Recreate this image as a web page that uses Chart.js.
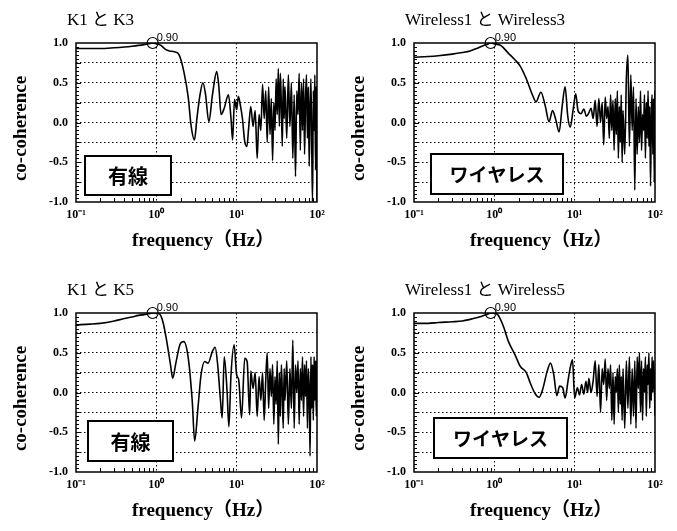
<!DOCTYPE html>
<html>
<head>
<meta charset="utf-8">
<script src="https://cdn.jsdelivr.net/npm/chart.js@4.4.1/dist/chart.umd.min.js"></script>
<style>
body { margin: 0; background: #fff; width: 677px; height: 531px; position: relative; overflow: hidden; }
.cell { position: absolute; width: 338px; height: 262px; }
</style>
</head>
<body>
<div class="cell" style="left:0;top:0"><canvas id="k13" width="338" height="262"></canvas></div>
<div class="cell" style="left:338px;top:0"><canvas id="w13" width="338" height="262"></canvas></div>
<div class="cell" style="left:0;top:270px"><canvas id="k15" width="338" height="262"></canvas></div>
<div class="cell" style="left:338px;top:270px"><canvas id="w15" width="338" height="262"></canvas></div>
<script>
// tick labels
const xTickLabels = ['10⁻¹', '10⁰', '10¹', '10²'];
const peakFreq = 0.9;
const peakLabel = '0.90';

// shared high-frequency grid (Hz)
const hfFreq = [15, 16, 17, 18, 19, 20, 21, 22, 23, 24, 25, 26, 27, 28, 29, 30, 31, 32, 33, 34, 35, 36, 37, 38, 39, 40,
  42, 44, 46, 48, 50, 52, 54, 56, 58, 60, 62, 64, 66, 68, 70, 72, 74, 76, 78, 80, 82, 84, 86, 88, 90, 92, 94, 96, 98, 100];

// K1 と K3
const k13Freq = [0.1, 0.15, 0.2, 0.3, 0.4, 0.5, 0.6, 0.7, 0.8, 0.9, 1.0, 1.14, 1.3, 1.46, 1.68, 1.92, 2.2, 2.5, 2.7, 2.98,
  3.2, 3.5, 3.8, 4.1, 4.5, 5.0, 5.65, 6.0, 6.4, 7.0, 7.9, 8.5, 8.9, 9.4, 10, 10.5, 11.1, 11.8, 12.6, 13.4, 14.1].concat(hfFreq);
const k13Coh = [0.93, 0.93, 0.93, 0.94, 0.95, 0.96, 0.97, 0.98, 0.99, 1.0, 0.99, 0.97, 0.92, 0.90, 0.89, 0.85, 0.64, 0.31, -0.03, -0.22,
  0.05, 0.35, 0.50, 0.35, 0.01, 0.35, 0.64, 0.45, 0.10, 0.18, 0.35, 0.05, -0.22, 0.29, 0.16, 0.33, 0.22, 0.05, -0.24, -0.30, -0.07,
  0.20, -0.05, 0.15, -0.45, 0.10, -0.10, 0.48, 0.05, 0.40, -0.25, 0.45, -0.15, 0.30, -0.48, 0.25, -0.10, 0.55, 0.10, 0.68, -0.05,
  0.62, 0.20, -0.30, 0.55, 0.05, 0.45,
  -0.20, 0.60, -0.05, 0.50, -0.45, 0.35, -0.68, 0.40, 0.10, 0.62, -0.35, 0.50, -0.10, 0.55, -0.40, 0.30, 0.60, -0.20, 0.45, -0.55,
  0.20, 0.55, -0.30, -1.00, 0.40, -0.10, 0.60, -0.60, 0.45, -1.00];

// Wireless1 と Wireless3
const w13Freq = [0.1, 0.15, 0.2, 0.3, 0.4, 0.5, 0.6, 0.7, 0.8, 0.9, 1.0, 1.2, 1.5, 1.8, 2.1, 2.5, 3.0, 3.3, 3.8, 4.3, 4.8, 5.3,
  5.8, 6.4, 7.0, 7.6, 8.2, 8.8, 9.6, 10.3, 11, 12, 13, 14].concat(hfFreq);
const w13Coh = [0.82, 0.83, 0.84, 0.86, 0.88, 0.90, 0.93, 0.96, 0.98, 1.0, 0.99, 0.97, 0.87, 0.79, 0.71, 0.55, 0.34, 0.26, 0.38, 0.21, 0.01, 0.15,
  0.04, -0.12, 0.21, 0.45, 0.08, -0.06, 0.17, 0.36, 0.15, 0.11, 0.17, 0.08,
  0.12, 0.18, 0.05, 0.28, -0.05, 0.30, 0.00, 0.25, -0.28, 0.32, 0.05, 0.20, -0.20, 0.35, -0.10, 0.28, -0.35, 0.30, -0.15, 0.40,
  -0.45, 0.20, -0.25, 0.35, -0.50, 0.15,
  -0.40, 0.55, 0.85, -0.30, 0.60, -0.10, 0.45, -0.85, 0.30, -0.40, 0.20, -0.25, 0.40, -0.35, 0.10, -0.10, 0.35, -0.45, 0.25, -0.20,
  0.40, -0.30, 0.20, -0.80, 0.10, 0.35, -0.40, 0.30, -0.75, 0.40];

// K1 と K5
const k15Freq = [0.1, 0.15, 0.2, 0.3, 0.4, 0.5, 0.6, 0.7, 0.8, 0.9, 1.05, 1.2, 1.35, 1.5, 1.6, 1.75, 2.0, 2.2, 2.5, 2.8, 3.0,
  3.3, 3.6, 4.0, 4.4, 5.0, 5.4, 5.8, 6.3, 6.6, 7.0, 7.6, 8.0, 8.5, 9.3, 10, 10.6, 11.5, 12.6, 13.5, 14.5].concat(hfFreq);
const k15Coh = [0.85, 0.86, 0.87, 0.90, 0.93, 0.95, 0.97, 0.98, 0.99, 1.0, 1.0, 0.90, 0.64, 0.35, 0.18, 0.37, 0.62, 0.64, 0.43, -0.11, -0.61,
  -0.19, 0.22, 0.39, 0.37, 0.52, 0.57, 0.35, -0.11, -0.32, 0.45, 0.01, -0.43, 0.22, 0.60, 0.22, 0.16, -0.32, 0.43, 0.39, -0.28,
  0.27, 0.05, 0.25, -0.30, 0.20, -0.10, 0.25, -0.35, 0.15, 0.50, -0.20, 0.30, -0.05, 0.35, -0.40, 0.20, -0.15, 0.40, -0.65, 0.25,
  -0.30, 0.35, 0.00, -0.45, 0.30, -0.10,
  0.40, -0.40, 0.30, -0.20, 0.66, -0.45, 0.35, 0.00, 0.40, -0.40, 0.30, -0.10, 0.45, -0.30, 0.35, -0.05, 0.40, -0.45, 0.30, 0.00,
  -0.80, 0.45, -0.20, 0.35, -0.35, 0.45, -0.10, 0.40, -0.30, 0.40];

// Wireless1 と Wireless5
const w15Freq = [0.1, 0.15, 0.2, 0.3, 0.4, 0.5, 0.6, 0.7, 0.8, 0.9, 1.0, 1.1, 1.3, 1.5, 1.8, 2.1, 2.5, 2.8, 3.2, 3.6, 4.0, 4.5,
  5.0, 5.5, 6.0, 6.5, 7.1, 7.6, 8.3, 8.8, 9.4, 10, 10.8, 11.5, 12.2, 13, 13.8, 14.5].concat(hfFreq);
const w15Coh = [0.87, 0.87, 0.88, 0.89, 0.90, 0.92, 0.94, 0.96, 0.98, 1.0, 1.0, 0.98, 0.83, 0.64, 0.48, 0.33, 0.25, 0.12, -0.01, -0.06, 0.04, 0.25,
  0.37, 0.22, -0.04, 0.08, 0.06, -0.07, 0.16, 0.31, 0.41, -0.07, 0.06, -0.03, 0.10, -0.02, 0.14, 0.00,
  0.18, 0.00, 0.15, 0.40, -0.05, 0.35, -0.25, 0.30, 0.10, 0.42, -0.10, 0.30, 0.05, 0.35, -0.35, 0.25, -0.40, 0.20, 0.00, 0.30,
  -0.25, 0.35, -0.15, 0.20, -0.35, 0.30,
  -0.45, 0.40, -0.20, 0.45, -0.40, 0.30, -0.30, 0.40, -0.45, 0.45, 0.05, 0.50, -0.25, 0.40, -0.35, 0.30, 0.00, 0.45, -0.30, 0.35,
  0.10, 0.50, -0.20, 0.30, -0.10, 0.45, 0.00, 0.40, 0.15, -0.30];

const SERIF = '"Liberation Serif", "Noto Sans CJK JP", serif';
const SANS_JP = '"Noto Sans CJK JP", sans-serif';

function isPow10(v) {
    const e = Math.log10(v);
    return Math.abs(e - Math.round(e)) < 1e-6;
}

const decoPlugin = {
    id: 'deco',
    afterDraw(chart, args, opts) {
        const ctx = chart.ctx;
        const a = chart.chartArea;
        const xs = chart.scales.x;
        const ys = chart.scales.y;
        ctx.save();
        // frame
        ctx.strokeStyle = '#000';
        ctx.lineWidth = 1.5;
        ctx.strokeRect(a.left, a.top, a.right - a.left, a.bottom - a.top);
        // inner minor ticks
        ctx.lineWidth = 1;
        ctx.beginPath();
        for (let d = -1; d < 2; d++) {
            for (let m = 2; m <= 9; m++) {
                const px = Math.round(xs.getPixelForValue(m * Math.pow(10, d))) + 0.5;
                ctx.moveTo(px, a.bottom);
                ctx.lineTo(px, a.bottom - 4);
            }
        }
        for (let i = -19; i <= 19; i++) {
            const py = Math.round(ys.getPixelForValue(i * 0.05)) + 0.5;
            ctx.moveTo(a.left, py);
            ctx.lineTo(a.left + (i % 5 === 0 ? 5 : 3), py);
        }
        ctx.stroke();

        // title
        ctx.fillStyle = '#000';
        ctx.font = '17px ' + SERIF;
        ctx.textAlign = 'left';
        ctx.textBaseline = 'middle';
        ctx.fillText(opts.title, a.left - 9, 21);

        // axis titles
        ctx.font = 'bold 19px ' + SERIF;
        ctx.fillText('frequency（Hz）', a.left + 56, 241);
        ctx.textAlign = 'center';
        ctx.save();
        ctx.translate(21, (a.top + a.bottom) / 2 + 6);
        ctx.rotate(-Math.PI / 2);
        ctx.fillText('co-coherence', 0, 0);
        ctx.restore();

        // peak label
        const pk = xs.getPixelForValue(peakFreq);
        ctx.font = '11px "Liberation Sans", sans-serif';
        ctx.textAlign = 'left';
        ctx.textBaseline = 'alphabetic';
        ctx.fillText(peakLabel, pk + 4, a.top - 2);

        // legend box
        const bx = a.left + opts.boxDx;
        const by = a.bottom - opts.boxDy - opts.boxH;
        ctx.fillStyle = '#fff';
        ctx.fillRect(bx, by, opts.boxW, opts.boxH);
        ctx.lineWidth = 2;
        ctx.strokeRect(bx, by, opts.boxW, opts.boxH);
        ctx.fillStyle = '#000';
        ctx.font = 'bold ' + opts.boxFont + 'px ' + SANS_JP;
        ctx.textAlign = 'center';
        ctx.textBaseline = 'middle';
        ctx.fillText(opts.boxLabel, bx + opts.boxW / 2, by + opts.boxH / 2 + 1);
        ctx.restore();
    }
};

function createChart(id, title, freq, coh, box) {
    const points = freq.map((f, i) => ({ x: f, y: coh[i] }));
    return new Chart(document.getElementById(id), {
        type: 'line',
        data: {
            datasets: [{
                data: points,
                borderColor: '#000',
                borderWidth: 1.6,
                pointRadius: 0,
                cubicInterpolationMode: 'monotone',
                fill: false
            }, {
                data: [{ x: peakFreq, y: 1.0 }],
                showLine: false,
                pointRadius: 5.5,
                pointBorderColor: '#000',
                pointBackgroundColor: 'rgba(0,0,0,0)',
                pointBorderWidth: 1.2,
                clip: false
            }]
        },
        options: {
            responsive: false,
            animation: false,
            layout: { padding: { top: 43, right: 21, left: 0, bottom: 0 } },
            plugins: {
                legend: { display: false },
                tooltip: { enabled: false },
                deco: Object.assign({ title: title }, box)
            },
            scales: {
                x: {
                    type: 'logarithmic',
                    min: 0.1,
                    max: 100,
                    afterFit: (s) => { s.height = 60; },
                    border: { display: false, dash: [1.5, 2.5] },
                    grid: {
                        drawTicks: false,
                        lineWidth: 1,
                        color: (c) => (c.tick && isPow10(c.tick.value) && c.tick.value > 0.2 && c.tick.value < 50) ? '#000' : 'rgba(0,0,0,0)'
                    },
                    ticks: {
                        autoSkip: false,
                        maxRotation: 0,
                        padding: 6,
                        color: '#000',
                        font: { family: SERIF, size: 12, weight: 'bold' },
                        callback: (v) => isPow10(v) ? xTickLabels[Math.round(Math.log10(v)) + 1] : ''
                    }
                },
                y: {
                    min: -1,
                    max: 1,
                    afterFit: (s) => { s.width = 76; },
                    border: { display: false, dash: [1.5, 2.5] },
                    grid: {
                        drawTicks: false,
                        lineWidth: 1,
                        color: (c) => (c.tick && Math.abs(c.tick.value) < 0.99) ? '#000' : 'rgba(0,0,0,0)'
                    },
                    ticks: {
                        stepSize: 0.25,
                        padding: 8,
                        color: '#000',
                        font: { family: SERIF, size: 12, weight: 'bold' },
                        callback: (v) => Math.abs(v * 2 - Math.round(v * 2)) < 1e-6 ? v.toFixed(1) : ''
                    }
                }
            }
        },
        plugins: [decoPlugin]
    });
}

createChart('k13', 'K1 と K3', k13Freq, k13Coh, { boxLabel: '有線', boxDx: 9, boxDy: 7, boxW: 86, boxH: 39, boxFont: 20 });
createChart('w13', 'Wireless1 と Wireless3', w13Freq, w13Coh, { boxLabel: 'ワイヤレス', boxDx: 17, boxDy: 8, boxW: 132, boxH: 40, boxFont: 19 });
createChart('k15', 'K1 と K5', k15Freq, k15Coh, { boxLabel: '有線', boxDx: 12, boxDy: 11, boxW: 85, boxH: 40, boxFont: 20 });
createChart('w15', 'Wireless1 と Wireless5', w15Freq, w15Coh, { boxLabel: 'ワイヤレス', boxDx: 20, boxDy: 14, boxW: 133, boxH: 40, boxFont: 19 });
</script>
</body>
</html>
